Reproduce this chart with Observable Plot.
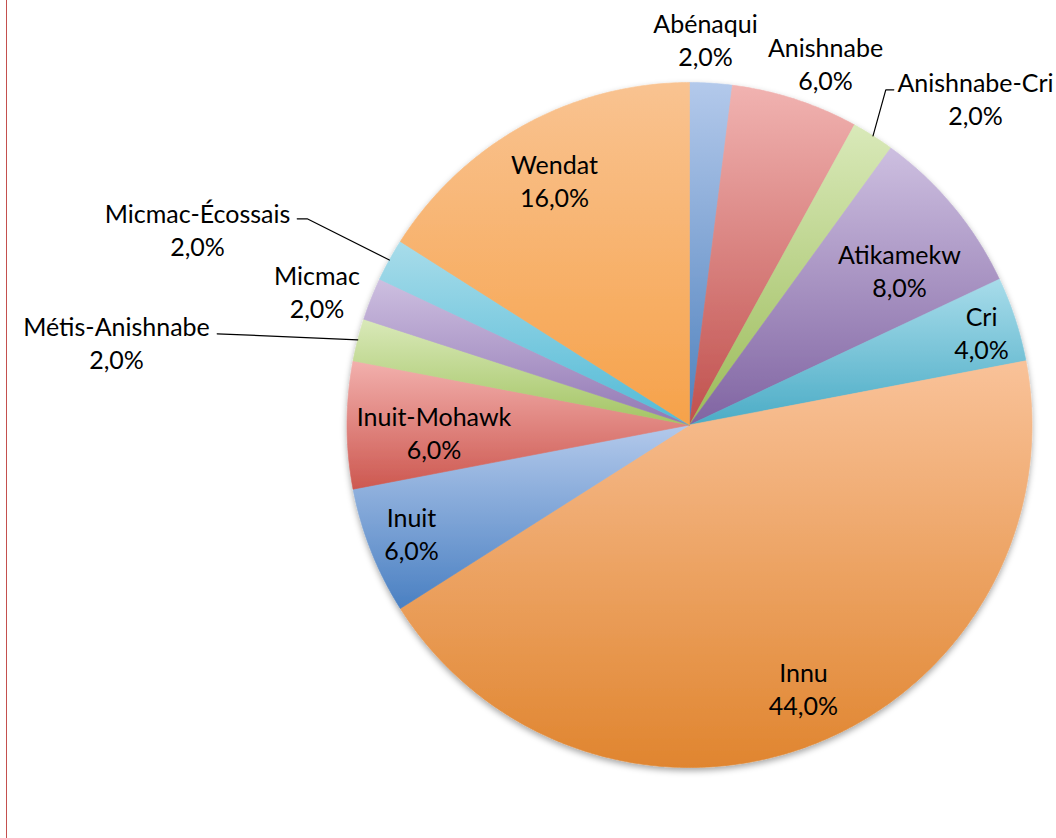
<!DOCTYPE html>
<html>
<head>
<meta charset="utf-8">
<script src="https://cdn.jsdelivr.net/npm/d3@7"></script>
<script src="https://cdn.jsdelivr.net/npm/@observablehq/plot@0.6"></script>
<style>
  html, body { margin: 0; padding: 0; background: #fff; }
  #wrap { position: relative; width: 1056px; height: 838px; overflow: hidden; }
  #wrap svg { position: absolute; left: 0; top: 0; }
  #edge { position: absolute; left: 6px; top: 0; width: 1.3px; height: 838px; background: #c4504e; }
</style>
</head>
<body>
<div id="wrap"><div id="edge"></div></div>
<script>
// ---- data ----
const names = ["Abénaqui","Anishnabe","Anishnabe-Cri","Atikamekw","Cri","Innu","Inuit","Inuit-Mohawk","Métis-Anishnabe","Micmac","Micmac-Écossais","Wendat"];
const shares = [2.0, 6.0, 2.0, 8.0, 4.0, 44.0, 6.0, 6.0, 2.0, 2.0, 2.0, 16.0];

// ---- styling / layout (kept apart from the data) ----
const W = 1056, H = 838, CX = 689, CY = 424.5, R = 342.5;
// per-slice vertical gradient (top colour, bottom colour)
const gradStops = [
  ["#b3c9eb", "#4f81bd"],
  ["#f1b3b1", "#c0504d"],
  ["#d9e9b9", "#9bbb59"],
  ["#cdbfe0", "#8064a2"],
  ["#a8dcea", "#4bacc6"],
  ["#f9c299", "#e0852f"],
  ["#b3c9eb", "#4a80c2"],
  ["#f2b0ad", "#cd5850"],
  ["#d9e9b9", "#a3c463"],
  ["#cdbfe0", "#9278b4"],
  ["#a8dcea", "#52bad6"],
  ["#f9c391", "#f6a24a"]
];
// label block centres, in units of the pie radius (u right, v up)
const labelAt = [
  [0.0467, 1.1285], [0.3971, 1.0569], [0.8350, 0.9562], [0.6131, 0.4526],
  [0.8526, 0.2730], [0.3328, -0.7664], [-0.8117, -0.3139], [-0.7460, -0.0190],
  [-1.6730, 0.2438], [-1.0876, 0.3912], [-1.4365, 0.5737], [-0.3942, 0.7168]
];
const leaderBends = {
  "Anishnabe-Cri":   [[0.5731, 0.9787], [0.5965, 0.9787]],
  "Micmac-Écossais": [[-1.1162, 0.6020], [-1.1453, 0.6020]],
  "Métis-Anishnabe": [[-1.3790, 0.2663]]
};

// ---- derived geometry from the values ----
const total = d3.sum(shares);
let cum = 0;
const slices = names.map((name, i) => {
  const a0 = cum / total * 2 * Math.PI; cum += shares[i];
  const a1 = cum / total * 2 * Math.PI;
  return {name, a0, a1, mid: (a0 + a1) / 2, share: shares[i]};
});
const slicePts = slices.flatMap(s => {
  const n = Math.max(6, Math.ceil((s.a1 - s.a0) / (Math.PI / 360)));
  const arr = [{name: s.name, u: 0, v: 0}];
  for (let k = 0; k <= n; k++) {
    const a = s.a0 + (s.a1 - s.a0) * k / n;
    arr.push({name: s.name, u: Math.sin(a), v: Math.cos(a)});
  }
  arr.push({name: s.name, u: 0, v: 0});
  return arr;
});
const labels = slices.map((s, i) => ({
  u: labelAt[i][0], v: labelAt[i][1],
  label: `${s.name}\n${s.share.toFixed(1).replace(".", ",")}%`
}));
const leaderPts = slices.filter(s => leaderBends[s.name]).flatMap(s => [
  {name: s.name, u: Math.sin(s.mid), v: Math.cos(s.mid)},
  ...leaderBends[s.name].map(([u, v]) => ({name: s.name, u, v}))
]);

const chart = Plot.plot({
  width: W, height: H, margin: 0,
  style: {fontFamily: "Lato, 'Open Sans', sans-serif", background: "transparent"},
  x: {domain: [-CX / R, (W - CX) / R], axis: null},
  y: {domain: [(CY - H) / R, CY / R], axis: null},
  color: {domain: names, range: names.map((_, i) => `url(#g-${i})`)},
  marks: [
    Plot.line(slicePts, {x: "u", y: "v", z: "name", fill: "name", stroke: "name", strokeWidth: 0.6}),
    Plot.line(leaderPts, {x: "u", y: "v", z: "name", stroke: "#000", strokeWidth: 1.2}),
    Plot.text(labels, {x: "u", y: "v", text: "label", fontSize: 25, lineHeight: 1.32, fill: "#000"})
  ]
});

// gradients and shadow
const ns = "http://www.w3.org/2000/svg";
const defs = document.createElementNS(ns, "defs");
gradStops.forEach((stops, i) => {
  const g = document.createElementNS(ns, "linearGradient");
  g.setAttribute("id", `g-${i}`);
  g.setAttribute("x1", "0"); g.setAttribute("y1", "0");
  g.setAttribute("x2", "0"); g.setAttribute("y2", "1");
  stops.forEach((c, k) => {
    const st = document.createElementNS(ns, "stop");
    st.setAttribute("offset", k === 0 ? "0" : "1");
    st.setAttribute("stop-color", c);
    g.appendChild(st);
  });
  defs.appendChild(g);
});
const filt = document.createElementNS(ns, "filter");
filt.setAttribute("id", "pieShadow");
filt.setAttribute("x", "-10%"); filt.setAttribute("y", "-10%");
filt.setAttribute("width", "120%"); filt.setAttribute("height", "125%");
const ds = document.createElementNS(ns, "feDropShadow");
ds.setAttribute("dx", "0"); ds.setAttribute("dy", "3");
ds.setAttribute("stdDeviation", "3");
ds.setAttribute("flood-color", "#000"); ds.setAttribute("flood-opacity", "0.35");
filt.appendChild(ds);
defs.appendChild(filt);
chart.insertBefore(defs, chart.firstChild);
const sg = chart.querySelector('g[aria-label="line"]');
if (sg) sg.setAttribute("filter", "url(#pieShadow)");

document.getElementById("wrap").insertBefore(chart, document.getElementById("edge"));
</script>
</body>
</html>
